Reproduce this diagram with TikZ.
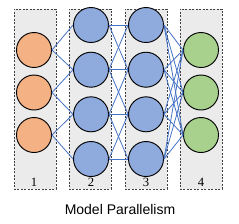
\documentclass[tikz,border=0pt]{standalone}
\usepackage{fontspec}
\setmainfont{Liberation Serif}
\newfontfamily\titlefont{Liberation Sans}
\usetikzlibrary{positioning}
\definecolor{mpin}{RGB}{244,177,131}
\definecolor{mphid}{RGB}{143,170,220}
\definecolor{mpout}{RGB}{169,209,142}
\definecolor{mpbox}{RGB}{235,235,235}
\definecolor{mpwire}{RGB}{68,114,196}
\tikzset{
  part/.style={
    draw=black!75, dashed, dash pattern=on 1.5pt off 1.1pt, fill=mpbox,
    line width=0.5pt, minimum width=31.5pt, minimum height=135pt, inner sep=0pt
  },
  unit/.style={
    circle, draw=black, line width=0.7pt, minimum size=26.25pt, inner sep=0pt
  },
  inu/.style={unit, fill=mpin},
  hid/.style={unit, fill=mphid},
  outu/.style={unit, fill=mpout},
  wire/.style={draw=mpwire, line width=0.6pt},
  tag/.style={font=\fontsize{9.5}{10}\selectfont, anchor=base}
}
\begin{document}
\begin{tikzpicture}[x=0.75pt, y=-0.75pt]
  \useasboundingbox (0,0) rectangle (239,223);
  % partitions
  \node[part] (p1) at (35,99) {};
  \node[part] (p2) at (90,99) {};
  \node[part] (p3) at (146,99) {};
  \node[part] (p4) at (201,99) {};
  \foreach \k/\x in {1/34,2/91,3/146,4/201}
    \node[tag] (n\k) at (\x,186) {\k};
  % units
  \foreach \i/\y in {1/50,2/92.5,3/135} {
    \node[inu] (o\i) at (34,\y) {};
    \node[outu] (g\i) at (201,\y) {};
  }
  \foreach \i/\y in {1/25,2/69.7,3/114.3,4/159} {
    \node[hid] (b\i) at (91,\y) {};
    \node[hid] (c\i) at (146,\y) {};
  }
  % connections
  \foreach \i in {1,2,3} {
    \pgfmathtruncatemacro\j{\i+1}
    \draw[wire] (o\i.east) -- (b\i.west);
    \draw[wire] (o\i.east) -- (b\j.west);
  }
  \foreach \i in {1,...,4} {
    \draw[wire] (b\i.east) -- (c\i.west);
    \foreach \g in {1,2,3}
      \draw[wire] (c\i.east) -- (g\g.west);
  }
  \foreach \i in {1,2,3} {
    \pgfmathtruncatemacro\j{\i+1}
    \draw[wire] (b\i.east) -- (c\j.west);
    \draw[wire] (b\j.east) -- (c\i.west);
  }
  \node[font=\titlefont\fontsize{10.5}{12}\selectfont] (title) at (120,209) {Model Parallelism};
\end{tikzpicture}
\end{document}
